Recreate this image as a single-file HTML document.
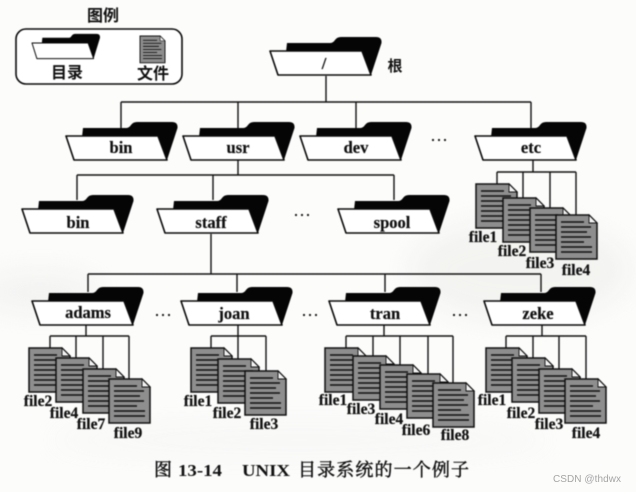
<!DOCTYPE html>
<html lang="zh">
<head>
<meta charset="utf-8">
<style>
html,body{margin:0;padding:0;width:636px;height:492px;overflow:hidden;background:#fcfcfb}
svg{display:block}
.g{filter:blur(.45px)}
.bg{filter:blur(14px)}
text{font-family:"Liberation Serif","Noto Serif CJK SC",serif;font-weight:bold;fill:#111}
.n{font-size:16.500px;text-anchor:middle;stroke:#111;stroke-width:.2}
.f{font-size:15.500px;text-anchor:middle;stroke:#111;stroke-width:.2}
.c{font-size:16px;text-anchor:middle}
.cap{font-size:18px;font-weight:normal;stroke:#111;stroke-width:.45}
.capl{font-size:17px;font-weight:bold}
.l{fill:none;stroke:#111;stroke-width:1.400}
</style>
</head>
<body>
<svg width="636" height="492" viewBox="0 0 636 492" xmlns="http://www.w3.org/2000/svg">
<defs>
<g id="folder">
<path d="M16,1 L17,-8 L60,-8 Q63,-8 65,-11 Q67,-14 71,-14 L106,-14 Q112,-14 111.500,-8 L101,24 L90,0 Z" fill="#050505"/>
<path d="M0,0 L92,0 L101,24 L8,24 Z" fill="#fff" stroke="#0a0a0a" stroke-width="1.600" stroke-linejoin="round"/>
</g>
<g id="file">
<path d="M0,0 L33,0 L41,8 L41,44 L0,44 Z" fill="#8e8e8e" stroke="#111" stroke-width="1.500"/>
<path d="M33,0 L41,8 L33,8 Z" fill="#f2f2f2" stroke="#111" stroke-width=".9"/>
<path d="M5,7 H28 M5,12 H35 M5,17 H31 M5,22 H35 M5,27 H28 M5,32 H36 M5,37 H36" stroke="#111" stroke-width="1.500" fill="none"/>
</g>
</defs>
<g class="bg" fill="#ecece9" opacity=".55">
<ellipse cx="520" cy="270" rx="110" ry="50"/>
<ellipse cx="40" cy="292" rx="60" ry="20"/>
<ellipse cx="300" cy="440" rx="250" ry="18" opacity=".4"/>
</g>
<g class="g">
<rect x="16" y="29" width="166" height="55" rx="10" fill="#fff" stroke="#0a0a0a" stroke-width="1.600"/>
<use href="#folder" transform="translate(32,43) scale(.61,.65)"/>
<use href="#file" transform="translate(140,36) scale(.61)"/>
<text class="c" x="103" y="21" style="font-family:'Noto Sans CJK SC',sans-serif;font-size:16px">图例</text>
<text class="c" x="67" y="78" style="font-family:'Noto Sans CJK SC',sans-serif;font-size:16px">目录</text>
<text class="c" x="153" y="79" style="font-family:'Noto Sans CJK SC',sans-serif;font-size:16px">文件</text>
<text class="c" x="395" y="71" style="font-family:'Noto Sans CJK SC',sans-serif;font-size:15px">根</text>

<path class="l" d="M326,76 V102 M121,102 H531 M121,102 V128 M238,102 V128 M356,102 V128 M531,102 V128"/>
<path class="l" d="M238,160 V175 M77,175 H394 M77,175 V200 M213,175 V200 M394,175 V200"/>
<path class="l" d="M211,234 V274 M88,274 H541 M88,274 V292 M237,274 V292 M385,274 V292 M541,274 V292"/>
<path class="l" d="M533,160 V172 M497,172 H576 M497,172 V185 M523,172 V199 M550,172 V209 M576,172 V217"/>
<path class="l" d="M86,325 V336 M50,336 H129 M50,336 V350 M76,336 V360 M103,336 V371 M129,336 V381"/>
<path class="l" d="M238,325 V359 M211,336 H266 M211,336 V350 M266,336 V373"/>
<path class="l" d="M384,325 V336 M346,336 H453 M346,336 V350 M373,336 V358 M400,336 V367 M428,336 V376 M453,336 V385"/>
<path class="l" d="M542,325 V336 M506,336 H586 M506,336 V350 M533,336 V360 M559,336 V371 M586,336 V381"/>

<use href="#folder" x="270" y="51"/>
<use href="#folder" x="66" y="136"/>
<use href="#folder" x="183" y="136"/>
<use href="#folder" x="300" y="136"/>
<use href="#folder" x="475" y="136"/>
<use href="#folder" x="22" y="209"/>
<use href="#folder" x="157" y="209"/>
<use href="#folder" x="338" y="209"/>
<use href="#folder" x="32" y="301"/>
<use href="#folder" x="181" y="301"/>
<use href="#folder" x="329" y="301"/>
<use href="#folder" x="484" y="301"/>

<text class="n" x="324" y="69">/</text>
<text class="n" x="121" y="153">bin</text>
<text class="n" x="238" y="153">usr</text>
<text class="n" x="356" y="153">dev</text>
<text class="n" x="531" y="153">etc</text>
<text class="n" x="78" y="228">bin</text>
<text class="n" x="211" y="228">staff</text>
<text class="n" x="392" y="228">spool</text>
<text class="n" x="88" y="318">adams</text>
<text class="n" x="234" y="319">joan</text>
<text class="n" x="385" y="319">tran</text>
<text class="n" x="538" y="319">zeke</text>

<g fill="#111">
<circle cx="433" cy="140" r="1.100"/><circle cx="439" cy="140" r="1.100"/><circle cx="445" cy="140" r="1.100"/>
<circle cx="296" cy="215" r="1.100"/><circle cx="302" cy="215" r="1.100"/><circle cx="308" cy="215" r="1.100"/>
<circle cx="157" cy="315" r="1.100"/><circle cx="163" cy="315" r="1.100"/><circle cx="169" cy="315" r="1.100"/>
<circle cx="304" cy="315" r="1.100"/><circle cx="310" cy="315" r="1.100"/><circle cx="316" cy="315" r="1.100"/>
<circle cx="454" cy="315" r="1.100"/><circle cx="460" cy="315" r="1.100"/><circle cx="466" cy="315" r="1.100"/>
</g>

<use href="#file" x="476" y="184"/><use href="#file" x="503" y="198"/><use href="#file" x="530" y="208"/><use href="#file" x="556" y="215"/>
<use href="#file" x="29" y="348"/><use href="#file" x="56" y="358"/><use href="#file" x="83" y="369"/><use href="#file" x="109" y="379"/>
<use href="#file" x="191" y="348"/><use href="#file" x="218" y="359"/><use href="#file" x="245" y="371"/>
<use href="#file" x="325" y="348"/><use href="#file" x="353" y="356"/><use href="#file" x="380" y="365"/><use href="#file" x="407" y="374"/><use href="#file" x="433" y="383"/>
<use href="#file" x="486" y="348"/><use href="#file" x="512" y="358"/><use href="#file" x="539" y="369"/><use href="#file" x="565" y="379"/>

<text class="f" x="483" y="242">file1</text>
<text class="f" x="512" y="256">file2</text>
<text class="f" x="540" y="268">file3</text>
<text class="f" x="576" y="275">file4</text>
<text class="f" x="38" y="406">file2</text>
<text class="f" x="64" y="418">file4</text>
<text class="f" x="91" y="429">file7</text>
<text class="f" x="128" y="438">file9</text>
<text class="f" x="198" y="406">file1</text>
<text class="f" x="227" y="418">file2</text>
<text class="f" x="264" y="429">file3</text>
<text class="f" x="333" y="405">file1</text>
<text class="f" x="361" y="414">file3</text>
<text class="f" x="389" y="424">file4</text>
<text class="f" x="416" y="435">file6</text>
<text class="f" x="455" y="440">file8</text>
<text class="f" x="492" y="405">file1</text>
<text class="f" x="521" y="418">file2</text>
<text class="f" x="549" y="429">file3</text>
<text class="f" x="586" y="438">file4</text>

<text class="cap" x="154" y="476">图</text>
<text class="capl" x="178" y="476" textLength="44" lengthAdjust="spacingAndGlyphs">13-14</text>
<text class="capl" x="242" y="476" textLength="48" lengthAdjust="spacingAndGlyphs">UNIX</text>
<text class="cap" x="298" y="476" textLength="171">目录系统的一个例子</text>
</g>
<text x="553" y="482" style="font-family:'Liberation Sans',sans-serif;font-weight:normal;font-size:10px;fill:#a5a5a5" textLength="68">CSDN @thdwx</text>
</svg>
</body>
</html>
